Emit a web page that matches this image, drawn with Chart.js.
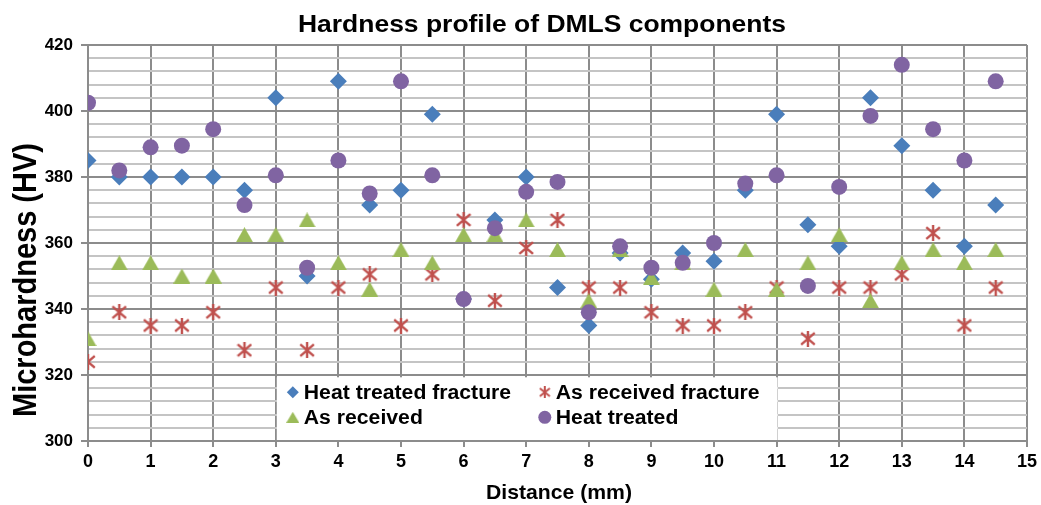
<!DOCTYPE html>
<html>
<head>
<meta charset="utf-8">
<script src="https://cdn.jsdelivr.net/npm/chart.js@4.4.1/dist/chart.umd.min.js"></script>
<style>
  html, body { margin: 0; padding: 0; background: #fff; }
  #wrap { width: 1041px; height: 505px; }
</style>
</head>
<body>
<div id="wrap"><canvas id="myChart" width="1041" height="505"></canvas></div>
<script>
// distance along the sample (mm)
var distance = [0, 0.5, 1, 1.5, 2, 2.5, 3, 3.5, 4, 4.5, 5, 5.5, 6, 6.5, 7, 7.5,
                8, 8.5, 9, 9.5, 10, 10.5, 11, 11.5, 12, 12.5, 13, 13.5, 14, 14.5];

// microhardness readings (HV)
var heatTreatedFracture = [385, 380, 380, 380, 380, 376, 404, 350, 409, 371.5, 376, 399, 343, 367, 380,
                           346.5, 335, 357, 349, 357, 354.5, 376, 399, 365.5, 359, 404, 389.5, 376, 359, 371.5];
var asReceivedFracture = [324, 339, 335, 335, 339, 327.5, 346.5, 327.5, 346.5, 350.5, 335, 350.5, 367, 342.5, 358.5,
                          367, 346.5, 346.5, 339, 335, 335, 339, 346.5, 331, 346.5, 346.5, 350.5, 363, 335, 346.5];
var asReceived = [331, 354, 354, 350, 350, 362.5, 362.5, 367, 354, 346, 358, 354, 362.5, 362.5, 367,
                  358, 342.5, 358, 349.5, 354, 346, 358, 346, 354, 362.5, 342.5, 354, 358, 354, 358];
var heatTreated = [402.5, 382, 389, 389.5, 394.5, 371.5, 380.5, 352.5, 385, 375, 409, 380.5, 343, 364.5, 375.5,
                   378.5, 339, 359, 352.5, 354, 360, 378, 380.5, 347, 377, 398.5, 414, 394.5, 385, 409];

var seriesNames = ['Heat treated fracture', 'As received fracture', 'As received', 'Heat treated'];
var yTicks = [300, 320, 340, 360, 380, 400, 420];

var FONT = '"Liberation Sans", Arial, sans-serif';

function xy(values) {
  return values.map(function (v, i) { return { x: distance[i], y: v }; });
}

// excel style asterisk marker (x with a vertical bar)
function makeAsterisk(size, lw) {
  var c = document.createElement('canvas');
  c.width = size; c.height = size;
  var g = c.getContext('2d');
  g.strokeStyle = '#c0504d';
  g.lineWidth = lw;
  var m = lw / 2;
  g.beginPath();
  g.moveTo(m, m + 1); g.lineTo(size - m, size - m - 1);
  g.moveTo(size - m, m + 1); g.lineTo(m, size - m - 1);
  g.moveTo(size / 2, 0); g.lineTo(size / 2, size);
  g.stroke();
  return c;
}

// triangle centred on its bounding box, like the excel marker
function makeTriangle(w, h) {
  var c = document.createElement('canvas');
  c.width = w; c.height = h;
  var g = c.getContext('2d');
  g.fillStyle = '#9bbb59';
  g.beginPath();
  g.moveTo(w / 2, 0); g.lineTo(w, h); g.lineTo(0, h);
  g.closePath();
  g.fill();
  return c;
}

var star = makeAsterisk(16, 2.4);
var starSmall = makeAsterisk(12, 2);
var tri = makeTriangle(17, 15);
var triSmall = makeTriangle(13, 11);

function drawText(ctx, text, x, y, font, sx, align, rot) {
  ctx.save();
  ctx.font = font;
  ctx.fillStyle = '#000';
  ctx.textAlign = align;
  ctx.textBaseline = 'alphabetic';
  ctx.translate(x, y);
  ctx.scale(sx, 1);
  if (rot) ctx.rotate(rot);
  ctx.fillText(text, 0, 0);
  ctx.restore();
}

function fitScale(ctx, text, font, width) {
  ctx.save();
  ctx.font = font;
  var w = ctx.measureText(text).width;
  ctx.restore();
  return width / w;
}

var legendMarks = [
  { pointStyle: 'rectRot', radius: 6, color: '#4a7ebb' },
  { pointStyle: starSmall, radius: 5, color: '#c0504d' },
  { pointStyle: triSmall, radius: 6, color: '#9bbb59' },
  { pointStyle: 'circle', radius: 6.5, color: '#8064a2' }
];

var insideLegend = {
  id: 'insideLegend',
  afterDatasetsDraw: function (chart) {
    var ctx = chart.ctx;
    var x = chart.scales.x, y = chart.scales.y;
    var left = x.getPixelForValue(3) + 1, right = x.getPixelForValue(11) + 1;
    var top = y.getPixelForValue(319.3), bottom = y.getPixelForValue(300) - 1;
    ctx.save();
    ctx.fillStyle = '#fff';
    ctx.fillRect(left, top, right - left, bottom - top);
    var cols = [left + 16, left + 268];
    var rows = [top + 15, top + 40];
    var f = 'bold 20px ' + FONT;
    seriesNames.forEach(function (name, i) {
      var cx = cols[i % 2], cy = rows[Math.floor(i / 2)];
      var m = legendMarks[i];
      ctx.fillStyle = m.color;
      ctx.strokeStyle = m.color;
      Chart.helpers.drawPoint(ctx, { pointStyle: m.pointStyle, radius: m.radius, rotation: 0, borderWidth: 0 }, cx, cy);
      drawText(ctx, name, cx + 11, cy + 7, f, 1.06, 'left');
    });
    ctx.restore();
  }
};

var titles = {
  id: 'titles',
  afterDraw: function (chart) {
    var ctx = chart.ctx;
    var tf = 'bold 24px ' + FONT;
    var title = 'Hardness profile of DMLS components';
    drawText(ctx, title, 542, 32, tf, fitScale(ctx, title, tf, 488), 'center');
    drawText(ctx, 'Microhardness (HV)', 36, 280, 'bold 29px ' + FONT, 1.12, 'center', -Math.PI / 2);
    var xf = 'bold 21px ' + FONT;
    drawText(ctx, 'Distance (mm)', 559, 499, xf, fitScale(ctx, 'Distance (mm)', xf, 146), 'center');
  }
};

var ctx = document.getElementById('myChart').getContext('2d');
var chart = new Chart(ctx, {
  type: 'scatter',
  data: {
    datasets: [{
      label: seriesNames[0],
      data: xy(heatTreatedFracture),
      pointStyle: 'rectRot',
      pointRadius: 8.5,
      backgroundColor: '#4a7ebb',
      borderColor: '#4a7ebb',
      borderWidth: 0,
      order: 4
    }, {
      label: seriesNames[1],
      data: xy(asReceivedFracture),
      pointStyle: star,
      pointRadius: 8,
      backgroundColor: '#c0504d',
      borderColor: '#c0504d',
      order: 3
    }, {
      label: seriesNames[2],
      data: xy(asReceived),
      pointStyle: tri,
      pointRadius: 8,
      backgroundColor: '#9bbb59',
      borderColor: '#9bbb59',
      borderWidth: 0,
      order: 2
    }, {
      label: seriesNames[3],
      data: xy(heatTreated),
      pointStyle: 'circle',
      pointRadius: 8,
      backgroundColor: '#8064a2',
      borderColor: '#8064a2',
      borderWidth: 0,
      order: 1
    }]
  },
  options: {
    responsive: false,
    devicePixelRatio: 1,
    animation: false,
    events: [],
    layout: { padding: { top: 45, right: 13, left: 0, bottom: 0 } },
    plugins: {
      legend: { display: false },
      title: { display: false },
      tooltip: { enabled: false }
    },
    scales: {
      x: {
        type: 'linear',
        min: 0,
        max: 15,
        afterFit: function (s) { s.height = 64; },
        ticks: {
          stepSize: 1,
          color: '#000',
          padding: 4,
          font: { family: FONT, size: 18, weight: 'bold' }
        },
        grid: { color: '#8c8c8c', lineWidth: 2, tickLength: 6, tickColor: '#8c8c8c' },
        border: { color: '#8c8c8c', width: 2 }
      },
      y: {
        min: 300,
        max: 420,
        afterFit: function (s) { s.width = 88; },
        ticks: {
          stepSize: 4,
          autoSkip: false,
          color: '#000',
          padding: 8,
          font: { family: FONT, size: 17, weight: 'bold' },
          callback: function (v) { return yTicks.indexOf(v) >= 0 ? String(v) : ''; }
        },
        grid: {
          lineWidth: 2,
          tickLength: 7,
          color: function (c) { return c.tick && yTicks.indexOf(c.tick.value) >= 0 ? '#8c8c8c' : '#c4c4c4'; },
          tickColor: function (c) { return c.tick && yTicks.indexOf(c.tick.value) >= 0 ? '#8c8c8c' : 'rgba(0,0,0,0)'; }
        },
        border: { color: '#8c8c8c', width: 2 }
      }
    }
  },
  plugins: [insideLegend, titles]
});
</script>
</body>
</html>
